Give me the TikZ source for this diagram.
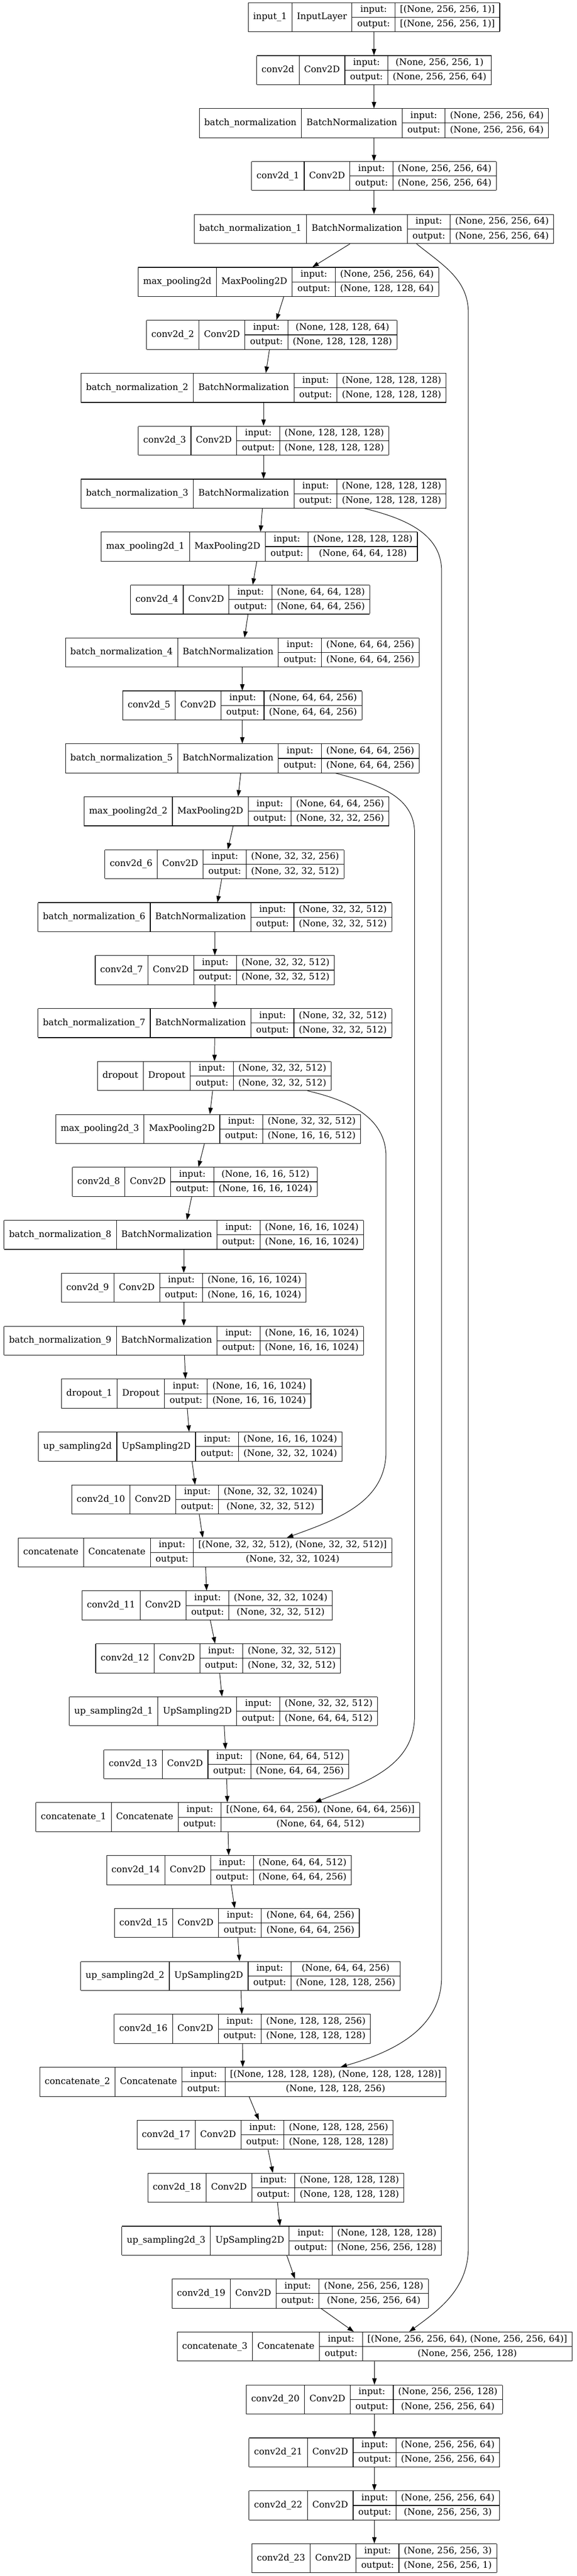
\documentclass[tikz,border=0pt]{standalone}
\usepackage{fontspec}
\setmainfont{DejaVu Serif}
\usetikzlibrary{positioning}
\usetikzlibrary{arrows.meta}
\setlength{\arrayrulewidth}{0.9pt}
\setlength{\tabcolsep}{7.8pt}
\newcommand{\rowstrut}{\rule[-7.35pt]{0pt}{21.9pt}}
\newcommand{\lyr}[4]{%
  \begin{tabular}{|c|c|@{}c@{}|}\hline
  #1 & #2 & \begin{tabular}{c|c}\rowstrut input: & #3\\ \hline \rowstrut output: & #4\end{tabular}\\ \hline
  \end{tabular}}
\tikzset{
  layer/.style={inner sep=0pt, outer sep=0pt, font=\fontsize{14pt}{17pt}\selectfont},
  edge/.style={-{Triangle[length=10pt,width=7pt]}, line width=0.8pt}
}

\begin{document}
\begin{tikzpicture}[node distance=36.5pt]
        \fill[white, use as bounding box] (0,0) rectangle (905.25pt,-4038.75pt);

        % encoder
        \node[layer] (in1) at (586.9pt,-27pt) {\lyr{input\_1}{InputLayer}{[(None, 256, 256, 1)]}{[(None, 256, 256, 1)]}};
        \node[layer, below=of in1] (c0) {\lyr{conv2d}{Conv2D}{(None, 256, 256, 1)}{(None, 256, 256, 64)}};
        \node[layer, below=of c0] (bn0) {\lyr{batch\_normalization}{BatchNormalization}{(None, 256, 256, 64)}{(None, 256, 256, 64)}};
        \node[layer, below=of bn0] (c1) {\lyr{conv2d\_1}{Conv2D}{(None, 256, 256, 64)}{(None, 256, 256, 64)}};
        \node[layer, below=of c1] (bn1) {\lyr{batch\_normalization\_1}{BatchNormalization}{(None, 256, 256, 64)}{(None, 256, 256, 64)}};
        \node[layer, below=of bn1, xshift=-134.25pt] (mp0) {\lyr{max\_pooling2d}{MaxPooling2D}{(None, 256, 256, 64)}{(None, 128, 128, 64)}};
        \node[layer, below=of mp0, xshift=-26.25pt] (c2) {\lyr{conv2d\_2}{Conv2D}{(None, 128, 128, 64)}{(None, 128, 128, 128)}};
        \node[layer, below=of c2, xshift=-12.75pt] (bn2) {\lyr{batch\_normalization\_2}{BatchNormalization}{(None, 128, 128, 128)}{(None, 128, 128, 128)}};
        \node[layer, below=of bn2] (c3) {\lyr{conv2d\_3}{Conv2D}{(None, 128, 128, 128)}{(None, 128, 128, 128)}};
        \node[layer, below=of c3] (bn3) {\lyr{batch\_normalization\_3}{BatchNormalization}{(None, 128, 128, 128)}{(None, 128, 128, 128)}};
        \node[layer, below=of bn3, xshift=-6.75pt] (mp1) {\lyr{max\_pooling2d\_1}{MaxPooling2D}{(None, 128, 128, 128)}{(None, 64, 64, 128)}};
        \node[layer, below=of mp1, xshift=-14.25pt] (c4) {\lyr{conv2d\_4}{Conv2D}{(None, 64, 64, 128)}{(None, 64, 64, 256)}};
        \node[layer, below=of c4, xshift=-12.4pt] (bn4) {\lyr{batch\_normalization\_4}{BatchNormalization}{(None, 64, 64, 256)}{(None, 64, 64, 256)}};
        \node[layer, below=of bn4] (c5) {\lyr{conv2d\_5}{Conv2D}{(None, 64, 64, 256)}{(None, 64, 64, 256)}};
        \node[layer, below=of c5] (bn5) {\lyr{batch\_normalization\_5}{BatchNormalization}{(None, 64, 64, 256)}{(None, 64, 64, 256)}};
        \node[layer, below=of bn5, xshift=-9pt] (mp2) {\lyr{max\_pooling2d\_2}{MaxPooling2D}{(None, 64, 64, 256)}{(None, 32, 32, 256)}};
        \node[layer, below=of mp2, xshift=-19.1pt] (c6) {\lyr{conv2d\_6}{Conv2D}{(None, 32, 32, 256)}{(None, 32, 32, 512)}};
        \node[layer, below=of c6, xshift=-15pt] (bn6) {\lyr{batch\_normalization\_6}{BatchNormalization}{(None, 32, 32, 512)}{(None, 32, 32, 512)}};
        \node[layer, below=of bn6] (c7) {\lyr{conv2d\_7}{Conv2D}{(None, 32, 32, 512)}{(None, 32, 32, 512)}};
        \node[layer, below=of c7] (bn7) {\lyr{batch\_normalization\_7}{BatchNormalization}{(None, 32, 32, 512)}{(None, 32, 32, 512)}};
        \node[layer, below=of bn7, xshift=-0.75pt] (do0) {\lyr{dropout}{Dropout}{(None, 32, 32, 512)}{(None, 32, 32, 512)}};
        \node[layer, below=of do0, xshift=-9.75pt] (mp3) {\lyr{max\_pooling2d\_3}{MaxPooling2D}{(None, 32, 32, 512)}{(None, 16, 16, 512)}};
        \node[layer, below=of mp3, xshift=-21pt] (c8) {\lyr{conv2d\_8}{Conv2D}{(None, 16, 16, 512)}{(None, 16, 16, 1024)}};
        \node[layer, below=of c8, xshift=-17.25pt] (bn8) {\lyr{batch\_normalization\_8}{BatchNormalization}{(None, 16, 16, 1024)}{(None, 16, 16, 1024)}};
        \node[layer, below=of bn8] (c9) {\lyr{conv2d\_9}{Conv2D}{(None, 16, 16, 1024)}{(None, 16, 16, 1024)}};
        \node[layer, below=of c9] (bn9) {\lyr{batch\_normalization\_9}{BatchNormalization}{(None, 16, 16, 1024)}{(None, 16, 16, 1024)}};
        \node[layer, below=of bn9, xshift=3.75pt] (do1) {\lyr{dropout\_1}{Dropout}{(None, 16, 16, 1024)}{(None, 16, 16, 1024)}};

        % decoder
        \node[layer, below=of do1, xshift=6.4pt] (up0) {\lyr{up\_sampling2d}{UpSampling2D}{(None, 16, 16, 1024)}{(None, 32, 32, 1024)}};
        \node[layer, below=of up0, xshift=10.5pt] (c10) {\lyr{conv2d\_10}{Conv2D}{(None, 32, 32, 1024)}{(None, 32, 32, 512)}};
        \node[layer, below=of c10, xshift=12.7pt] (cat0) {\lyr{concatenate}{Concatenate}{[(None, 32, 32, 512), (None, 32, 32, 512)]}{(None, 32, 32, 1024)}};
        \node[layer, below=of cat0, xshift=3.4pt] (c11) {\lyr{conv2d\_11}{Conv2D}{(None, 32, 32, 1024)}{(None, 32, 32, 512)}};
        \node[layer, below=of c11, xshift=17.25pt] (c12) {\lyr{conv2d\_12}{Conv2D}{(None, 32, 32, 512)}{(None, 32, 32, 512)}};
        \node[layer, below=of c12, xshift=8.25pt] (up1) {\lyr{up\_sampling2d\_1}{UpSampling2D}{(None, 32, 32, 512)}{(None, 64, 64, 512)}};
        \node[layer, below=of up1, xshift=4.5pt] (c13) {\lyr{conv2d\_13}{Conv2D}{(None, 64, 64, 512)}{(None, 64, 64, 256)}};
        \node[layer, below=of c13, xshift=2.25pt] (cat1) {\lyr{concatenate\_1}{Concatenate}{[(None, 64, 64, 256), (None, 64, 64, 256)]}{(None, 64, 64, 512)}};
        \node[layer, below=of cat1, xshift=2pt] (c14) {\lyr{conv2d\_14}{Conv2D}{(None, 64, 64, 512)}{(None, 64, 64, 256)}};
        \node[layer, below=of c14, xshift=12.3pt] (c15) {\lyr{conv2d\_15}{Conv2D}{(None, 64, 64, 256)}{(None, 64, 64, 256)}};
        \node[layer, below=of c15, xshift=5.7pt] (up2) {\lyr{up\_sampling2d\_2}{UpSampling2D}{(None, 64, 64, 256)}{(None, 128, 128, 256)}};
        \node[layer, below=of up2, xshift=2.9pt] (c16) {\lyr{conv2d\_16}{Conv2D}{(None, 128, 128, 256)}{(None, 128, 128, 128)}};
        \node[layer, below=of c16, xshift=0.9pt] (cat2) {\lyr{concatenate\_2}{Concatenate}{[(None, 128, 128, 128), (None, 128, 128, 128)]}{(None, 128, 128, 256)}};
        \node[layer, below=of cat2, xshift=34.75pt] (c17) {\lyr{conv2d\_17}{Conv2D}{(None, 128, 128, 256)}{(None, 128, 128, 128)}};
        \node[layer, below=of c17, xshift=17pt] (c18) {\lyr{conv2d\_18}{Conv2D}{(None, 128, 128, 128)}{(None, 128, 128, 128)}};
        \node[layer, below=of c18, xshift=9pt] (up3) {\lyr{up\_sampling2d\_3}{UpSampling2D}{(None, 128, 128, 128)}{(None, 256, 256, 128)}};
        \node[layer, below=of up3, xshift=29.1pt] (c19) {\lyr{conv2d\_19}{Conv2D}{(None, 256, 256, 128)}{(None, 256, 256, 64)}};
        \node[layer, below=of c19, xshift=116.9pt] (cat3) {\lyr{concatenate\_3}{Concatenate}{[(None, 256, 256, 64), (None, 256, 256, 64)]}{(None, 256, 256, 128)}};
        \node[layer, below=of cat3, xshift=-0.5pt] (c20) {\lyr{conv2d\_20}{Conv2D}{(None, 256, 256, 128)}{(None, 256, 256, 64)}};
        \node[layer, below=of c20] (c21) {\lyr{conv2d\_21}{Conv2D}{(None, 256, 256, 64)}{(None, 256, 256, 64)}};
        \node[layer, below=of c21] (c22) {\lyr{conv2d\_22}{Conv2D}{(None, 256, 256, 64)}{(None, 256, 256, 3)}};
        \node[layer, below=of c22] (c23) {\lyr{conv2d\_23}{Conv2D}{(None, 256, 256, 3)}{(None, 256, 256, 1)}};

        % edges
        \draw[edge] (in1) -- (c0);
        \draw[edge] (c0) -- (bn0);
        \draw[edge] (bn0) -- (c1);
        \draw[edge] (c1) -- (bn1);
        \draw[edge] (bn1) -- (mp0);
        \draw[edge] (mp0) -- (c2);
        \draw[edge] (c2) -- (bn2);
        \draw[edge] (bn2) -- (c3);
        \draw[edge] (c3) -- (bn3);
        \draw[edge] (bn3) -- (mp1);
        \draw[edge] (mp1) -- (c4);
        \draw[edge] (c4) -- (bn4);
        \draw[edge] (bn4) -- (c5);
        \draw[edge] (c5) -- (bn5);
        \draw[edge] (bn5) -- (mp2);
        \draw[edge] (mp2) -- (c6);
        \draw[edge] (c6) -- (bn6);
        \draw[edge] (bn6) -- (c7);
        \draw[edge] (c7) -- (bn7);
        \draw[edge] (bn7) -- (do0);
        \draw[edge] (do0) -- (mp3);
        \draw[edge] (mp3) -- (c8);
        \draw[edge] (c8) -- (bn8);
        \draw[edge] (bn8) -- (c9);
        \draw[edge] (c9) -- (bn9);
        \draw[edge] (bn9) -- (do1);
        \draw[edge] (do1) -- (up0);
        \draw[edge] (up0) -- (c10);
        \draw[edge] (c10) -- (cat0);
        \draw[edge] (cat0) -- (c11);
        \draw[edge] (c11) -- (c12);
        \draw[edge] (c12) -- (up1);
        \draw[edge] (up1) -- (c13);
        \draw[edge] (c13) -- (cat1);
        \draw[edge] (cat1) -- (c14);
        \draw[edge] (c14) -- (c15);
        \draw[edge] (c15) -- (up2);
        \draw[edge] (up2) -- (c16);
        \draw[edge] (c16) -- (cat2);
        \draw[edge] (cat2) -- (c17);
        \draw[edge] (c17) -- (c18);
        \draw[edge] (c18) -- (up3);
        \draw[edge] (up3) -- (c19);
        \draw[edge] (c19) -- (cat3);
        \draw[edge] (cat3) -- (c20);
        \draw[edge] (c20) -- (c21);
        \draw[edge] (c21) -- (c22);
        \draw[edge] (c22) -- (c23);

        % skip connections
        \coordinate (s1a) at (735pt,-491pt);
        \coordinate (s1b) at (735pt,-3523pt);
        \coordinate (s2a) at (693pt,-895.5pt);
        \coordinate (s2b) at (693pt,-3099pt);
        \coordinate (s3a) at (650.6pt,-1306pt);
        \coordinate (s3b) at (650.6pt,-2690pt);
        \coordinate (s4a) at (605.8pt,-1813.5pt);
        \coordinate (s4b) at (605.8pt,-2275.5pt);
        \draw[edge] ([xshift=66.75pt]bn1.south) to[out=-39,in=90] (s1a) -- (s1b) to[out=-90,in=36] ([xshift=54.2pt]cat3.north);
        \draw[edge] ([xshift=158.6pt]bn3.south) to[out=-14,in=90] (s2a) -- (s2b) to[out=-90,in=16] ([xshift=153.25pt]cat2.north);
        \draw[edge] ([xshift=146.6pt]bn5.south) to[out=-15,in=90] (s3a) -- (s3b) to[out=-90,in=22] ([xshift=137pt]cat1.north);
        \draw[edge] ([xshift=146.25pt]do0.south) to[out=-13,in=90] (s4a) -- (s4b) to[out=-90,in=20] ([xshift=128.4pt]cat0.north);
\end{tikzpicture}
\end{document}
